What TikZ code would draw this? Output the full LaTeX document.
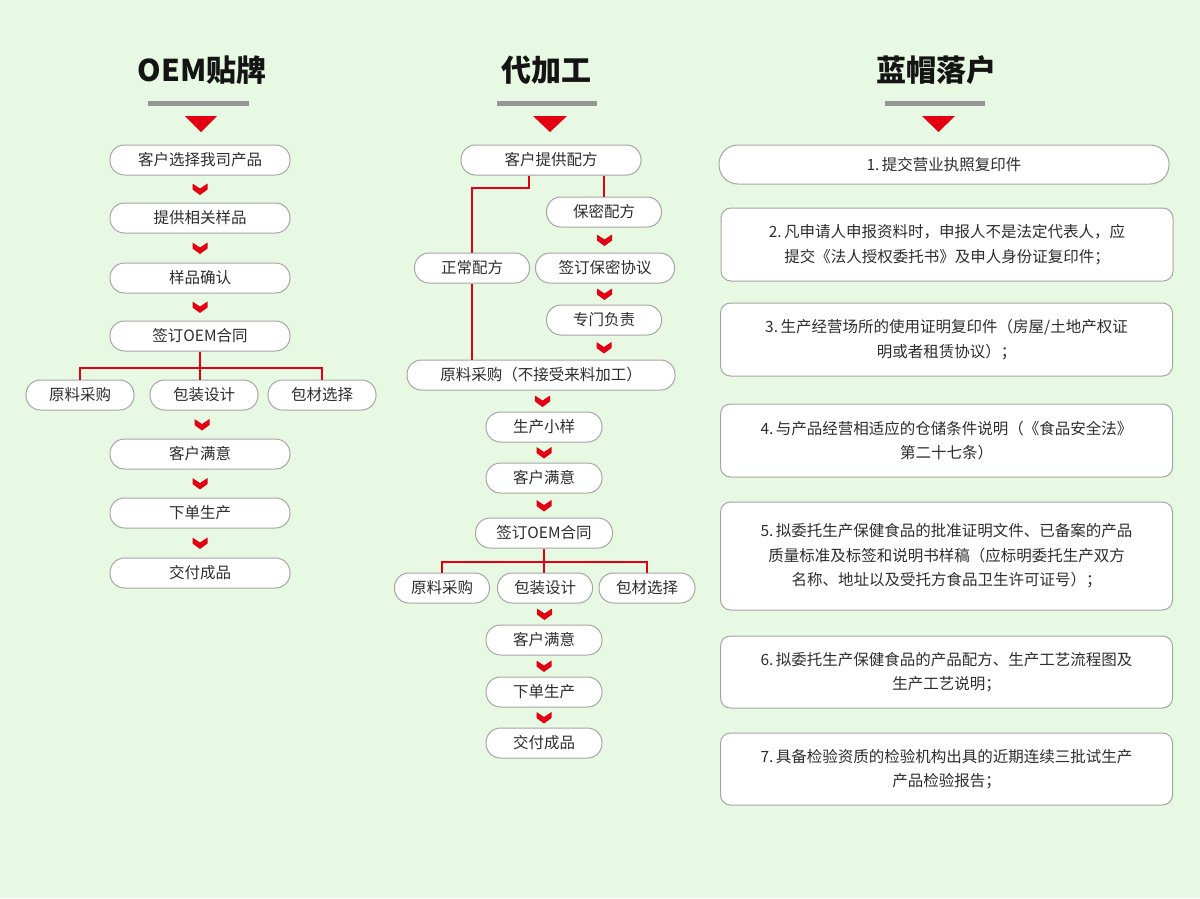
\documentclass[tikz,border=0pt]{standalone}
\usepackage{fontspec}
\newfontfamily\cjk{Noto Sans CJK SC}
\usetikzlibrary{calc}
\definecolor{bg}{RGB}{231,249,226}
\definecolor{boxline}{RGB}{165,165,165}
\definecolor{txt}{RGB}{45,45,45}
\definecolor{myred}{RGB}{228,0,18}
\definecolor{bargray}{RGB}{150,150,150}
\begin{document}
\begin{tikzpicture}[x=1pt,y=-1pt,
  pill/.style={draw=boxline, line width=1pt, fill=white, rounded corners=14.5pt,
    minimum height=30pt, inner sep=0pt, font=\cjk\fontsize{15.5}{18}\selectfont, text=txt},
  card/.style={draw=boxline, line width=1pt, fill=white, rounded corners=10pt,
    inner sep=0pt, align=center, font=\cjk\fontsize{15.5}{24.5}\selectfont, text=txt,
    minimum width=452pt, minimum height=73pt},
  ttl/.style={font=\cjk\bfseries\fontsize{30}{32}\selectfont, text=black!92, inner sep=0pt},
  branch/.style={draw=myred, line width=2pt},
  chev/.pic={\fill[myred] (-7.5,-5.5) -- (0,-0.5) -- (7.5,-5.5) -- (7.5,0.5) -- (0,6) -- (-7.5,0.5) -- cycle;},
]
\useasboundingbox (0,0) rectangle (1200,898);
\fill[bg] (0,0) rectangle (1200,898);

% ---------- titles ----------
\node[ttl] (t1) at (202,70) {OEM贴牌};
\fill[bargray] (148,101) rectangle (249,106);
\fill[myred] (185,116) -- (217,116) -- (201,132) -- cycle;

\node[ttl] (t2) at (546,70) {代加工};
\fill[bargray] (497,101) rectangle (597,106);
\fill[myred] (533,116) -- (567,116) -- (550,132) -- cycle;

\node[ttl] (t3) at (936,70) {蓝帽落户};
\fill[bargray] (885,101) rectangle (985,106);
\fill[myred] (922,116) -- (955,116) -- (938.5,132) -- cycle;

% ---------- left column ----------
\node[pill, minimum width=180pt] (a1) at (200,160) {客户选择我司产品};
\node[pill, minimum width=180pt] (a2) at (200,218) {提供相关样品};
\node[pill, minimum width=180pt] (a3) at (200,278) {样品确认};
\node[pill, minimum width=180pt] (a4) at (200,336) {签订OEM合同};
\node[pill, minimum width=108pt] (b1) at (80,395) {原料采购};
\node[pill, minimum width=108pt] (b2) at (204,395) {包装设计};
\node[pill, minimum width=108pt] (b3) at (322,395) {包材选择};
\node[pill, minimum width=180pt] (a5) at (200,454) {客户满意};
\node[pill, minimum width=180pt] (a6) at (200,513) {下单生产};
\node[pill, minimum width=180pt] (a7) at (200,573) {交付成品};

\path ($(a1.south)!0.5!(a2.north)$) pic{chev};
\path ($(a2.south)!0.5!(a3.north)$) pic{chev};
\path ($(a3.south)!0.5!(a4.north)$) pic{chev};
\path ($(b2.south)!0.5!(a5.north)$) pic{chev};
\path ($(a5.south)!0.5!(a6.north)$) pic{chev};
\path ($(a6.south)!0.5!(a7.north)$) pic{chev};

\coordinate (j1) at ($(a4.south)+(0,16)$);
\draw[branch] (a4.south) -- (a4.south |- b2.north);
\draw[branch] (b1.north) |- (j1) -| (b3.north);

% ---------- middle column ----------
\node[pill, minimum width=180pt] (m1) at (551,160) {客户提供配方};
\node[pill, minimum width=115pt] (m2) at (604,212) {保密配方};
\node[pill, minimum width=115pt] (n1) at (472,268) {正常配方};
\node[pill, minimum width=139pt] (m3) at (605,268) {签订保密协议};
\node[pill, minimum width=115pt] (m4) at (604,320) {专门负责};
\node[pill, minimum width=268pt] (m5) at (541,375) {原料采购（不接受来料加工）};
\node[pill, minimum width=116pt] (m6) at (544,427) {生产小样};
\node[pill, minimum width=116pt] (m7) at (544,478) {客户满意};
\node[pill, minimum width=137pt] (m8) at (544,533) {签订OEM合同};
\node[pill, minimum width=95pt] (c1) at (442,588) {原料采购};
\node[pill, minimum width=95pt] (c2) at (545,588) {包装设计};
\node[pill, minimum width=96pt] (c3) at (647,588) {包材选择};
\node[pill, minimum width=116pt] (m9) at (544,640) {客户满意};
\node[pill, minimum width=116pt] (m10) at (544,692) {下单生产};
\node[pill, minimum width=116pt] (m11) at (544,743) {交付成品};

\draw[branch] ($(m1.south)+(-22,0)$) -- ++(0,12) -| (n1.north);
\draw[branch] (m1.south -| m2.north) -- (m2.north);
\draw[branch] (n1.south) -- (n1.south |- m5.north);

\path ($(m2.south)!0.5!(m3.north)$) pic{chev};
\path ($(m3.south)!0.5!(m4.north)$) pic{chev};
\path ($(m4.south)!0.5!(m4.south |- m5.north)$) pic{chev};
\path ($(m5.south)!0.5!(m6.north)$) pic{chev};
\path ($(m6.south)!0.5!(m7.north)$) pic{chev};
\path ($(m7.south)!0.5!(m8.north)$) pic{chev};
\path ($(c2.south)!0.5!(m9.north)$) pic{chev};
\path ($(m9.south)!0.5!(m10.north)$) pic{chev};
\path ($(m10.south)!0.5!(m11.north)$) pic{chev};

\coordinate (j2) at ($(m8.south)+(0,13)$);
\draw[branch] (m8.south) -- (m8.south |- c2.north);
\draw[branch] (c1.north) |- (j2) -| (c3.north);

% ---------- right column ----------
\node[card, minimum width=450pt, minimum height=39pt, rounded corners=19pt] (r1) at (944,164.5) {1.\,提交营业执照复印件};
\node[card] (r2) at (947,244.5) {2.\,凡申请人申报资料时，申报人不是法定代表人，应\\提交《法人授权委托书》及申人身份证复印件；};
\node[card] (r3) at (946.5,339.5) {3.\,生产经营场所的使用证明复印件（房屋/土地产权证\\明或者租赁协议）；};
\node[card] (r4) at (946.5,440.5) {4.\,与产品经营相适应的仓储条件说明（《食品安全法》\\第二十七条）};
\node[card, minimum height=108pt] (r5) at (946.5,556) {5.\,拟委托生产保健食品的批准证明文件、已备案的产品\\质量标准及标签和说明书样稿（应标明委托生产双方\\名称、地址以及受托方食品卫生许可证号）；};
\node[card, minimum height=72pt] (r6) at (946.5,672) {6.\,拟委托生产保健食品的产品配方、生产工艺流程图及\\生产工艺说明；};
\node[card, minimum height=72pt] (r7) at (946.5,769) {7.\,具备检验资质的检验机构出具的近期连续三批试生产\\产品检验报告；};
\end{tikzpicture}
\end{document}
